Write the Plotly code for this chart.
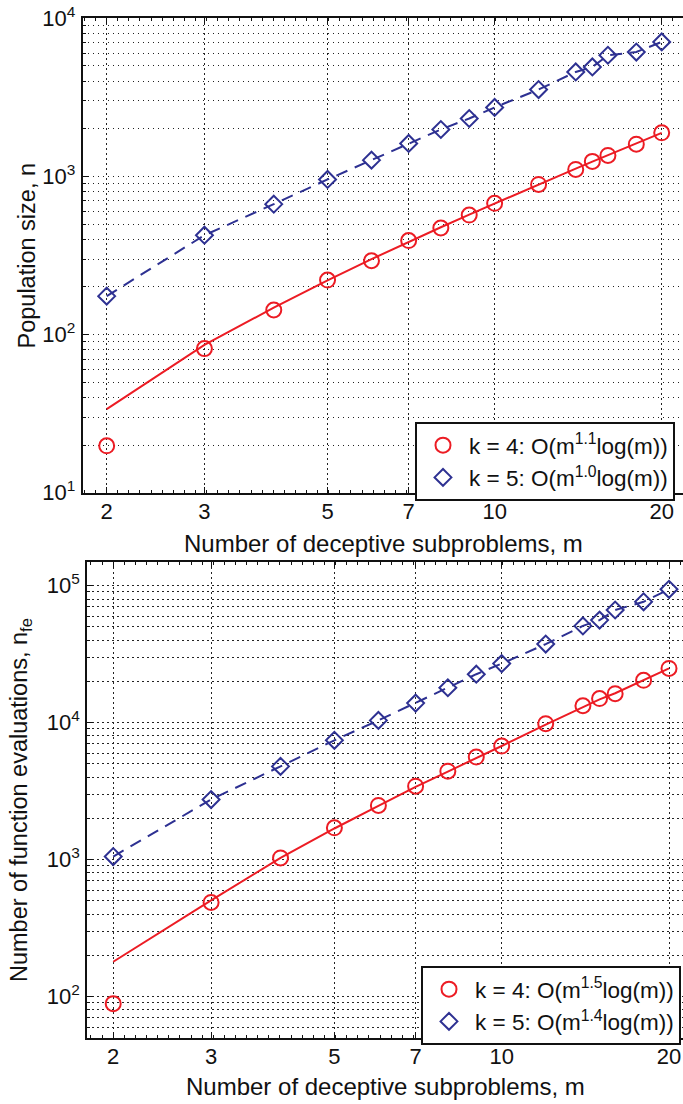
import plotly.graph_objects as go

# Number of deceptive subproblems
m = [2, 3, 4, 5, 6, 7, 8, 9, 10, 12, 14, 15, 16, 18, 20]

# Population size n (top panel)
pop_k4 = [19.8, 81.5, 143, 221, 293, 393, 472, 570, 676, 890, 1107, 1245, 1358, 1600, 1886]
pop_k5 = [175, 425, 668, 957, 1268, 1617, 1981, 2325, 2730, 3545, 4577, 4922, 5838, 6120, 7086]
pop_fit_k4 = [33.8, 86, 148, 220, 300, 386, 477, 574, 675, 891, 1121, 1241, 1364, 1618, 1886]
pop_fit_k5 = [175, 425, 668, 957, 1268, 1617, 1981, 2325, 2730, 3545, 4577, 4922, 5838, 6120, 7086]

# Number of function evaluations n_fe (bottom panel)
nfe_k4 = [89, 488, 1030, 1710, 2490, 3440, 4430, 5610, 6750, 9840, 13300, 15000, 16300, 20400, 24900]
nfe_k5 = [1055, 2750, 4800, 7440, 10400, 13900, 18000, 22600, 27000, 37500, 50900, 56100, 66500, 76300, 94200]
nfe_fit_k4 = [180, 505, 1030, 1690, 2470, 3400, 4400, 5560, 6760, 9700, 13000, 14800, 16400, 20450, 24900]
nfe_fit_k5 = [1055, 2750, 4800, 7440, 10400, 13900, 18000, 22600, 27000, 37500, 50900, 56100, 66500, 76300, 94200]

legend_top = ["k = 4: O(m<sup>1.1</sup>log(m))", "k = 5: O(m<sup>1.0</sup>log(m))"]
legend_bot = ["k = 4: O(m<sup>1.5</sup>log(m))", "k = 5: O(m<sup>1.4</sup>log(m))"]

x_ticks = [2, 3, 5, 7, 10, 20]
x_ticktext = ["2", "3", "5", "7", "10", "20"]
y_ticks_top = [10, 100, 1000, 10000]
y_ticktext_top = ["10<sup>1</sup>", "10<sup>2</sup>", "10<sup>3</sup>", "10<sup>4</sup>"]
y_minor_top = [20, 30, 40, 50, 60, 70, 80, 90, 200, 300, 400, 500, 600, 700, 800, 900,
               2000, 3000, 4000, 5000, 6000, 7000, 8000, 9000]
y_ticks_bot = [100, 1000, 10000, 100000]
y_ticktext_bot = ["10<sup>2</sup>", "10<sup>3</sup>", "10<sup>4</sup>", "10<sup>5</sup>"]
y_minor_bot = [50, 60, 70, 80, 90, 200, 300, 400, 500, 600, 700, 800, 900,
               2000, 3000, 4000, 5000, 6000, 7000, 8000, 9000,
               20000, 30000, 40000, 50000, 60000, 70000, 80000, 90000]

RED = "#ec1c24"
BLUE = "#2e3192"
FONT = "Liberation Sans, Arial, Helvetica, sans-serif"
W, H = 683, 1104

fig = go.Figure()

circle = dict(symbol="circle-open", size=15, color=RED, line=dict(width=2, color=RED))
diamond = dict(symbol="diamond-open", size=13, color=BLUE, line=dict(width=2, color=BLUE))
dashed = dict(color=BLUE, width=2, dash="12px,8px")

# ---- top panel ----
fig.add_trace(go.Scatter(x=m, y=pop_fit_k4, mode="lines", line=dict(color=RED, width=2),
                         showlegend=False, xaxis="x", yaxis="y", hoverinfo="skip"))
fig.add_trace(go.Scatter(x=m, y=pop_fit_k5, mode="lines", line=dashed,
                         showlegend=False, xaxis="x", yaxis="y", hoverinfo="skip"))
fig.add_trace(go.Scatter(x=m, y=pop_k4, mode="markers", name=legend_top[0], marker=circle,
                         xaxis="x", yaxis="y", legend="legend"))
fig.add_trace(go.Scatter(x=m, y=pop_k5, mode="markers", name=legend_top[1], marker=diamond,
                         xaxis="x", yaxis="y", legend="legend"))

# ---- bottom panel ----
fig.add_trace(go.Scatter(x=m, y=nfe_fit_k4, mode="lines", line=dict(color=RED, width=2),
                         showlegend=False, xaxis="x2", yaxis="y2", hoverinfo="skip"))
fig.add_trace(go.Scatter(x=m, y=nfe_fit_k5, mode="lines", line=dashed,
                         showlegend=False, xaxis="x2", yaxis="y2", hoverinfo="skip"))
fig.add_trace(go.Scatter(x=m, y=nfe_k4, mode="markers", name=legend_bot[0], marker=circle,
                         xaxis="x2", yaxis="y2", legend="legend2"))
fig.add_trace(go.Scatter(x=m, y=nfe_k5, mode="markers", name=legend_bot[1], marker=diamond,
                         xaxis="x2", yaxis="y2", legend="legend2"))

GRID = dict(gridcolor="#222222", gridwidth=1, griddash="1.5px,3.5px")


def xaxis(domain_left, rng, anchor):
    return dict(type="log", domain=[domain_left / W, 1.0], range=rng, anchor=anchor,
                tickmode="array", tickvals=x_ticks, ticktext=x_ticktext,
                ticks="inside", ticklen=6, tickwidth=1, tickcolor="#111",
                showline=True, linecolor="#111", linewidth=2, mirror="ticks",
                showgrid=True, **GRID, zeroline=False,
                minor=dict(dtick=0.02, tick0=0.30103, ticks="inside", ticklen=3, tickcolor="#111", showgrid=False),
                tickfont=dict(family=FONT, size=22, color="#111"),
                ticklabelstandoff=-2, automargin=False)


def yaxis(top_px, bot_px, rng, anchor, tv, tt, minor_vals):
    return dict(type="log", domain=[(H - bot_px) / H, (H - top_px) / H], range=rng, anchor=anchor,
                tickmode="array", tickvals=tv, ticktext=tt,
                ticks="inside", ticklen=6, tickwidth=1, tickcolor="#111",
                showline=True, linecolor="#111", linewidth=2, mirror=False,
                showgrid=True, **GRID, zeroline=False,
                minor=dict(tickmode="array", tickvals=minor_vals, ticks="inside", ticklen=3,
                           tickcolor="#111", showgrid=True, **GRID),
                tickfont=dict(family=FONT, size=22, color="#111"),
                ticklabelstandoff=1, automargin=False)


LEG = dict(xanchor="left", yanchor="top", bgcolor="white", bordercolor="#111", borderwidth=2,
           font=dict(family=FONT, size=22.5, color="#111"), itemwidth=42)

fig.update_layout(
    width=W, height=H,
    margin=dict(l=0, r=0, t=0, b=0),
    paper_bgcolor="white", plot_bgcolor="white",
    font=dict(family=FONT, color="#111"),
    xaxis=xaxis(82.7, [0.2578, 1.3394], "y"),
    yaxis=yaxis(18.3, 492.7, [1, 4], "x", y_ticks_top, y_ticktext_top, y_minor_top),
    xaxis2=xaxis(87.3, [0.2544, 1.3262], "y2"),
    yaxis2=yaxis(562.3, 1038, [1.6985, 5.171], "x2", y_ticks_bot, y_ticktext_bot, y_minor_bot),
    legend=dict(x=415 / W, y=(H - 422) / H, **LEG),
    legend2=dict(x=421 / W, y=(H - 966) / H, **LEG),
    annotations=[
        dict(text="Number of deceptive subproblems, m", xref="paper", yref="paper",
             x=383 / W, y=(H - 543) / H, xanchor="center", yanchor="middle", showarrow=False,
             font=dict(family=FONT, size=24, color="#111")),
        dict(text="Number of deceptive subproblems, m", xref="paper", yref="paper",
             x=385 / W, y=(H - 1086) / H, xanchor="center", yanchor="middle", showarrow=False,
             font=dict(family=FONT, size=24, color="#111")),
        dict(text="Population size, n", xref="paper", yref="paper", textangle=-90,
             x=27 / W, y=(H - 255.5) / H, xanchor="center", yanchor="middle", showarrow=False,
             font=dict(family=FONT, size=23.5, color="#111")),
        dict(text="Number of function evaluations, n<sub>fe</sub>", xref="paper", yref="paper", textangle=-90,
             x=20 / W, y=(H - 800) / H, xanchor="center", yanchor="middle", showarrow=False,
             font=dict(family=FONT, size=23.5, color="#111")),
    ],
)

fig.write_html("out.html")
